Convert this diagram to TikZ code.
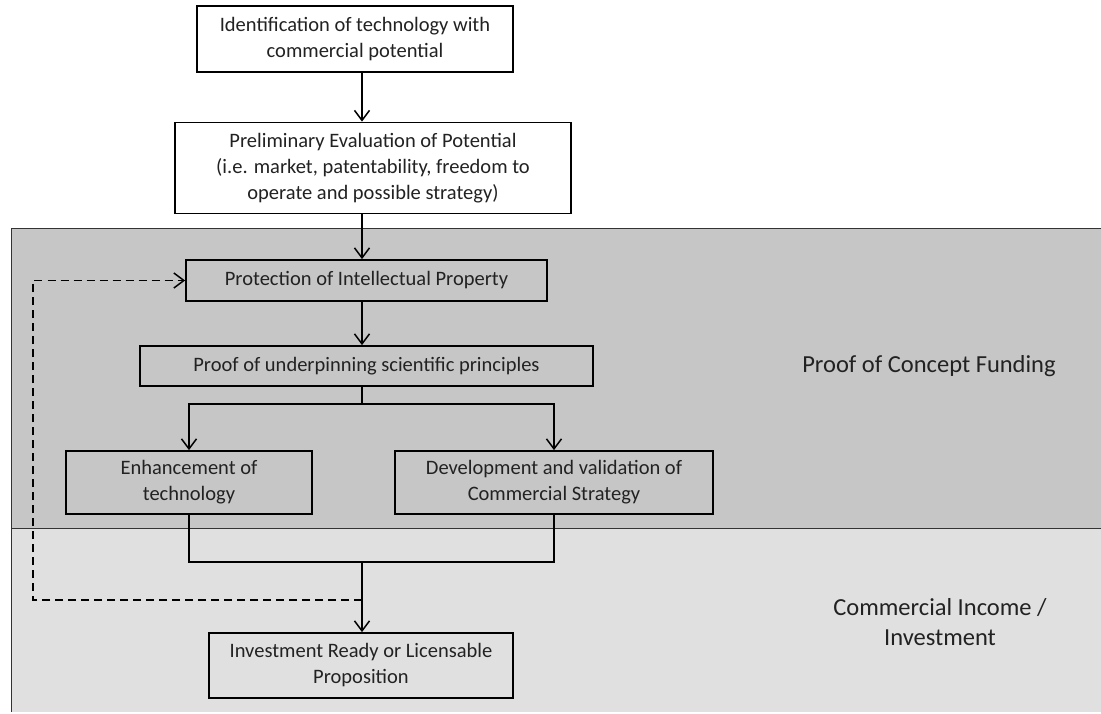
\documentclass[tikz,border=0pt]{standalone}
\usepackage{fontspec}
\setmainfont{Carlito}
\usetikzlibrary{arrows.meta}
\usetikzlibrary{calc}
\usetikzlibrary{positioning}

\definecolor{bandpoc}{HTML}{C6C6C6}
\definecolor{bandinc}{HTML}{E0E0E0}
\definecolor{inkgray}{HTML}{222222}

\begin{document}
\begin{tikzpicture}[x=1pt, y=-1pt,
    box/.style={draw=black, line width=1.8pt, align=center, inner sep=0pt,
        text=inkgray, font=\fontsize{20.5}{26}\selectfont},
    arr/.style={line width=1.5pt, -{Straight Barb[length=10pt, width=15pt, line width=1.5pt]}},
    dasharr/.style={arr, dashed, dash pattern=on 8pt off 5pt},
    side/.style={text=inkgray, align=center, font=\fontsize{24.5}{30}\selectfont}]
    \useasboundingbox (0,0) rectangle (1101,713);
    % funding bands
    \fill[bandpoc] (11,228) rectangle (1101,528);
    \fill[bandinc] (11,528) rectangle (1101,712);
    \draw[gray!40!black, line width=0.9pt] (1101,228) -- (11,228) -- (11,712);
    \draw[gray!40!black, line width=0.9pt] (11,528) -- (1101,528);
    \coordinate (spine) at (362,0);
    \coordinate (loop) at (33,600);
    % steps
    \node[box, fill=white, minimum width=316pt, minimum height=66pt] (ident) at (355,39) {Identification of technology with\\commercial potential};
    \node[box, fill=white, minimum width=396pt, minimum height=91pt] (prelim) at (373,168) {Preliminary Evaluation of Potential\\(i.e. market, patentability, freedom to\\operate and possible strategy)};
    \node[box, minimum width=361pt, minimum height=41pt] (protect) at (366.5,280.5) {Protection of Intellectual Property};
    \node[box, minimum width=453pt, minimum height=40pt] (proof) at (366.5,366) {Proof of underpinning scientific principles};
    \node[box, minimum width=246pt, minimum height=63pt] (enhance) at (189,482.5) {Enhancement of\\technology};
    \node[box, minimum width=318pt, minimum height=63pt] (develop) at (554,482.5) {Development and validation of\\Commercial Strategy};
    \node[box, minimum width=304pt, minimum height=65pt] (invest) at (361,665.5) {Investment Ready or Licensable\\Proposition};
    % band labels
    \node[side] (poc) at (929,366) {Proof of Concept Funding};
    \node[side] (income) at (940,622) {Commercial Income /\\Investment};
    % connectors
    \draw[arr] (spine |- ident.south) -- (spine |- prelim.north);
    \draw[arr] (spine |- prelim.south) -- (spine |- protect.north);
    \draw[arr] (spine |- protect.south) -- (spine |- proof.north);
    \draw[line width=1.5pt] (spine |- proof.south) -- ++(0,17) coordinate (split);
    \draw[arr] (split) -| (enhance.north);
    \draw[arr] (split) -| (develop.north);
    \coordinate (join) at ($(spine |- enhance.south)+(0,47)$);
    \draw[line width=1.5pt] (enhance.south) |- (join) -| (develop.south);
    \draw[arr] (join) -- (spine |- invest.north);
    \draw[dasharr] (spine |- loop) -- (loop) |- (protect.west);
\end{tikzpicture}
\end{document}
